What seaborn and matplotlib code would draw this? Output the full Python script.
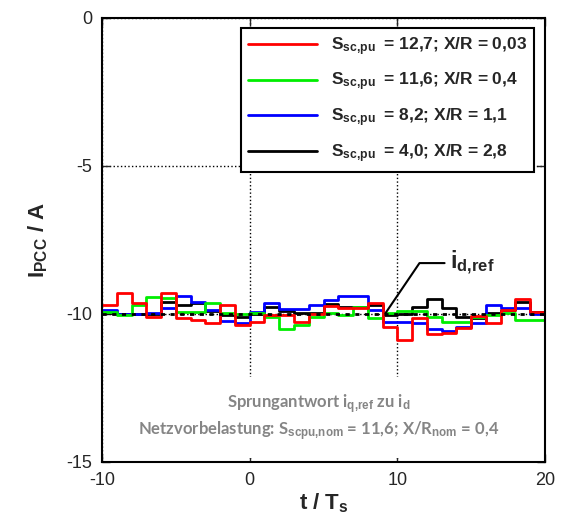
import numpy as np
import pandas as pd
import matplotlib
matplotlib.use("Agg")
import matplotlib.pyplot as plt
import seaborn as sns

# step start times (one sample per T_s), last value held until t = 20
t_steps = list(range(-10, 21))

red_vals = [-9.70, -9.30, -9.62, -10.11, -9.30, -10.15, -10.20, -10.29, -9.70, -10.37,
            -10.26, -10.03, -10.03, -10.26, -10.00, -9.72, -9.80, -9.80, -9.62, -10.45,
            -10.88, -10.15, -10.69, -10.65, -10.48, -10.07, -10.30, -9.86, -9.50, -9.92]
green_vals = [-9.92, -10.03, -9.70, -9.41, -9.45, -9.92, -9.92, -9.64, -9.98, -10.00,
              -9.98, -10.09, -10.52, -10.37, -10.09, -9.98, -10.03, -9.77, -10.15, -9.98,
              -9.90, -9.90, -10.10, -10.28, -10.28, -10.10, -10.05, -9.95, -10.20, -10.20]
blue_vals = [-9.88, -10.00, -10.00, -9.95, -9.80, -9.40, -9.58, -9.85, -10.25, -10.30,
             -9.92, -9.62, -9.84, -9.84, -9.70, -9.53, -9.39, -9.39, -9.86, -10.26,
             -10.26, -10.29, -10.52, -10.56, -10.45, -10.30, -9.70, -9.80, -9.80, -10.00]
black_vals = [-9.95, -10.00, -10.00, -10.00, -9.60, -9.70, -9.64, -9.90, -10.03, -10.09,
              -10.00, -9.75, -9.90, -9.98, -9.98, -9.66, -9.78, -9.78, -9.70, -10.05,
              -10.00, -9.75, -9.50, -9.80, -10.10, -10.15, -9.95, -9.85, -9.60, -9.92]
id_ref = -10.0

labels = [
    r"$\mathbf{S_{sc{,}pu}}\;$ = 12,7; X/R = 0,03",
    r"$\mathbf{S_{sc{,}pu}}\;$ = 11,6; X/R = 0,4",
    r"$\mathbf{S_{sc{,}pu}}\;$ = 8,2; X/R = 1,1",
    r"$\mathbf{S_{sc{,}pu}}\;$ = 4,0; X/R = 2,8",
]
colors = ["#ff0000", "#00ee00", "#0000ff", "#000000"]
series = [red_vals, green_vals, blue_vals, black_vals]

x_ticks = [-10, 0, 10, 20]
y_ticks = [-15, -10, -5, 0]

# annotation geometry for i_d,ref pointer
ann_x = [9.2, 11.5, 13.2]
ann_y = [-9.97, -8.28, -8.28]

note = ("Sprungantwort i$_{\\mathbf{q{,}ref}}$ zu i$_{\\mathbf{d}}$\n"
        "Netzvorbelastung: S$_{\\mathbf{scpu{,}nom}}$ = 11,6; X/R$_{\\mathbf{nom}}$ = 0,4")

sns.set_style("white")
plt.rcParams["font.family"] = ["Liberation Sans", "DejaVu Sans"]
plt.rcParams["axes.unicode_minus"] = False
plt.rcParams["mathtext.fontset"] = "custom"
plt.rcParams["mathtext.rm"] = "Liberation Sans"
plt.rcParams["mathtext.bf"] = "Liberation Sans:bold"
plt.rcParams["mathtext.it"] = "Liberation Sans:italic"

frames = []
for lab, vals in zip(labels, series):
    frames.append(pd.DataFrame({"t": t_steps, "I": vals + [vals[-1]], "case": lab}))
df = pd.concat(frames, ignore_index=True)

fig = plt.figure(figsize=(5.67, 5.32), dpi=100)
ax = fig.add_axes([102 / 567, 1 - 462 / 532, 443 / 567, 444 / 532])

# draw black first so red ends up on top
for lab, col in list(zip(labels, colors))[::-1]:
    sub = df[df["case"] == lab]
    sns.lineplot(data=sub, x="t", y="I", color=col, lw=2.0, drawstyle="steps-post",
                 label=lab, ax=ax, estimator=None)

ax.axhline(id_ref, color="black", lw=2.0, ls=(0, (1.5, 2.0)), zorder=5)
ax.plot(ann_x, ann_y, color="black", lw=1.5, zorder=6)
ax.text(ann_x[-1] + 0.4, ann_y[-1], r"$\mathbf{i_{d{,}ref}}$", fontsize=17,
        va="center", ha="left")

ax.set_xlim(-10, 20)
ax.set_ylim(-15, 0)
ax.set_xticks(x_ticks)
ax.set_yticks(y_ticks)
ax.grid(True, color="black", ls=":", lw=1.0)
ax.tick_params(direction="in", length=6, labelsize=13, top=True, right=True,
               bottom=True, left=True, width=1, pad=7)
for s in ax.spines.values():
    s.set_linewidth(1.5)
    s.set_color("black")

ax.set_xlabel(r"$\mathbf{t}$ / $\mathbf{T_s}$", fontsize=16, fontweight="bold", labelpad=2)
ax.set_ylabel(r"$\mathbf{I_{PCC}}$ / A", fontsize=16, fontweight="bold", labelpad=12)

handles, labs = ax.get_legend_handles_labels()
order = [labs.index(l) for l in labels]
leg = ax.legend([handles[i] for i in order], [labs[i] for i in order],
                loc="upper right", bbox_to_anchor=(0.975, 0.977), borderaxespad=0,
                handlelength=4.0, labelspacing=0.75, fancybox=False,
                framealpha=1, edgecolor="black", prop={"weight": "bold", "size": 12.5})
leg.get_frame().set_linewidth(1.5)
leg.set_zorder(10)

ax.text(4.7, -13.5, note, fontsize=12, fontweight="bold",
        family=["Lato", "DejaVu Sans"], color="#858585",
        ha="center", va="center", multialignment="center", linespacing=1.2, zorder=7,
        bbox=dict(facecolor="white", edgecolor="none", pad=11))

fig.savefig("out.png", dpi=100)
